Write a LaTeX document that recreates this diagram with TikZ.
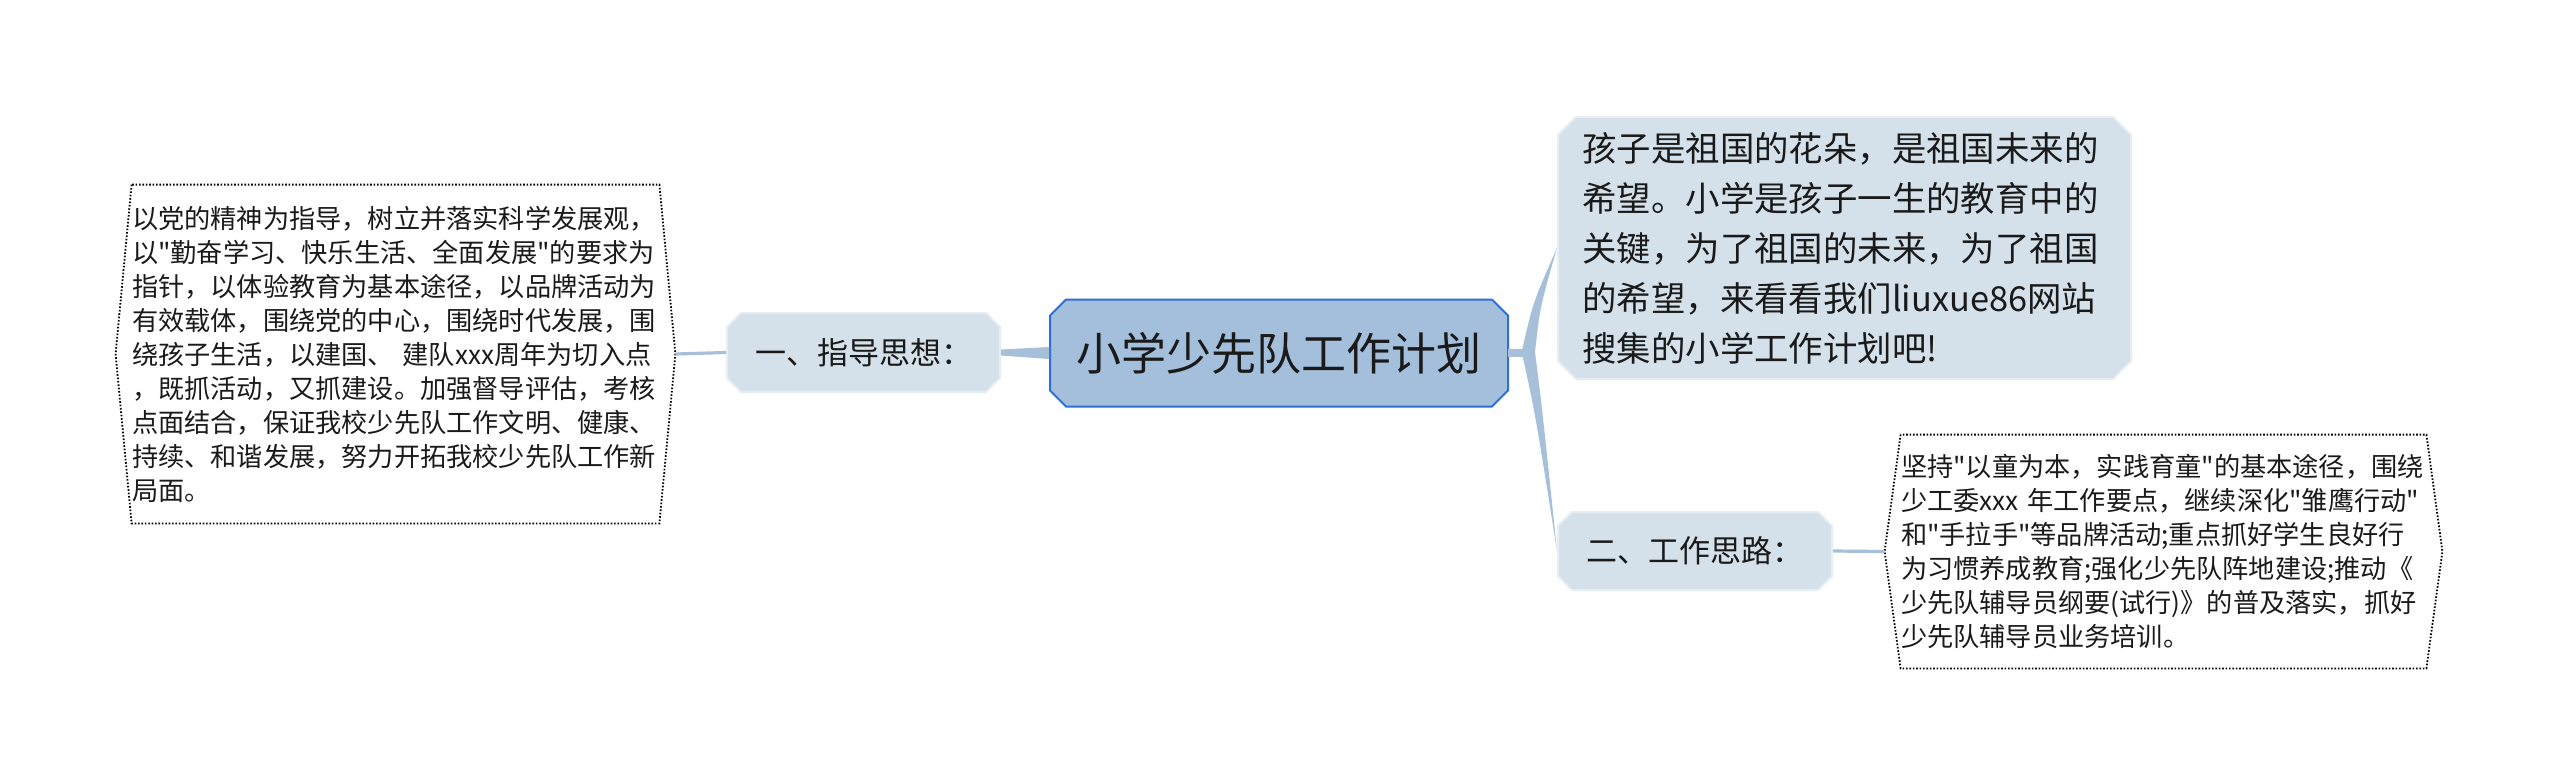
\documentclass[tikz,border=0pt]{standalone}
\usepackage{fontspec}
\setmainfont{Noto Sans CJK SC}[Ligatures=TeXOff]
\usetikzlibrary{shapes.misc,calc}
\definecolor{branch}{HTML}{A7C0DA}
\definecolor{topicfill}{HTML}{A3BFDC}
\definecolor{topicline}{HTML}{2F6FD5}
\definecolor{subfill}{HTML}{D4E0EA}
\definecolor{subline}{HTML}{E6EDF3}
\definecolor{ink}{HTML}{1A1A1A}

\begin{document}
\begin{tikzpicture}[x=0.5pt,y=-0.5pt,
  topic/.style={chamfered rectangle,chamfered rectangle xsep=4pt,chamfered rectangle ysep=4pt,
    fill=topicfill,draw=topicline,line width=1pt,inner sep=0pt,text=ink},
  sub/.style={chamfered rectangle,chamfered rectangle xsep=3.5pt,chamfered rectangle ysep=3.5pt,
    fill=subfill,draw=subline,line width=1pt,inner sep=0pt,text=ink},
  note/.style={inner sep=0pt,align=left,text=ink,font=\fontsize{13.1pt}{17pt}\selectfont},
  memo/.style={line width=0.9pt,dash pattern=on 0.8pt off 0.9pt},
  twig/.style={draw=branch,line width=1.6pt}]
% Page outline
  \fill[white] (0,0) rectangle (2560,783);
  \useasboundingbox (0,0) rectangle (2560,783);
% Central topic
  \node[topic,minimum width=229pt,minimum height=53.5pt,
    font=\fontsize{22.5pt}{27pt}\selectfont] (title) at (1279,353) {小学少先队工作计划};
% Left branch label
  \node[sub,minimum width=136.5pt,minimum height=39.5pt,
    font=\fontsize{15.5pt}{19pt}\selectfont] (guide) at (863.5,352.5) {一、指导思想：};
% Right branch label
  \node[sub,minimum width=137pt,minimum height=39pt,
    font=\fontsize{15.5pt}{19pt}\selectfont] (idea) at (1695,551) {二、工作思路：};
% Right intro card
  \node[sub,minimum width=286.5pt,minimum height=131pt,chamfered rectangle xsep=4.5pt,
    chamfered rectangle ysep=4.5pt,align=left,text width=262pt,
    font=\fontsize{17.2pt}{25pt}\selectfont] (intro) at (1844.5,248) {孩子是祖国的花朵，是祖国未来的\\
希望。小学是孩子一生的教育中的\\
关键，为了祖国的未来，为了祖国\\
的希望，来看看我们liuxue86网站\\
搜集的小学工作计划吧!};
% Left note
  \node[note,text width=263.5pt,minimum height=169pt] (guidetext) at (395.5,354) {以党的精神为指导，树立并落实科学发展观，\\
以"勤奋学习、快乐生活、全面发展"的要求为\\
指针，以体验教育为基本途径，以品牌活动为\\
有效载体，围绕党的中心，围绕时代发展，围\\
绕孩子生活，以建国、~建队xxx周年为切入点\\
，既抓活动，又抓建设。加强督导评估，考核\\
点面结合，保证我校少先队工作文明、健康、\\
持续、和谐发展，努力开拓我校少先队工作新\\
局面。};
  \draw[memo] (guidetext.north west) -- ($(guidetext.west)+(-16,0)$) -- (guidetext.south west)
    -- (guidetext.south east) -- ($(guidetext.east)+(16,0)$) -- (guidetext.north east) -- cycle;
  \coordinate (guidetip) at ($(guidetext.east)+(16,0)$);
% Right note
  \node[note,text width=262.5pt,minimum height=116.5pt] (ideatext) at (2163.5,551.5) {坚持"以童为本，实践育童"的基本途径，围绕\\
少工委xxx~年工作要点，继续深化"雏鹰行动"\\
和"手拉手"等品牌活动;重点抓好学生良好行\\
为习惯养成教育;强化少先队阵地建设;推动《\\
少先队辅导员纲要(试行)》的普及落实，抓好\\
少先队辅导员业务培训。};
  \draw[memo] (ideatext.north west) -- ($(ideatext.west)+(-16,0)$) -- (ideatext.south west)
    -- (ideatext.south east) -- ($(ideatext.east)+(16,0)$) -- (ideatext.north east) -- cycle;
  \coordinate (ideatip) at ($(ideatext.west)+(-16,0)$);
% Tapered link to the left label
  \fill[branch] ($(title.west)+(0,-6)$) -- ($(guide.east)+(0,-3)$)
    -- ($(guide.east)+(0,3)$) -- ($(title.west)+(0,6)$) -- cycle;
% Thin links to the notes
  \draw[twig] (guide.west) -- (guidetip);
  \draw[twig] (idea.east) -- (ideatip);
% Right fork
  \coordinate (fork) at (1523,352);
  \fill[branch] ($(title.east)+(-1,-4.5)$) rectangle ($(fork)+(3,4.5)$);
  \fill[branch] ($(fork)+(-2,3)$) .. controls ($(fork)+(10,-50)$) .. (intro.west)
    .. controls ($(fork)+(17,-45)$) .. ($(fork)+(12,0)$) -- cycle;
  \fill[branch] ($(fork)+(-2,-3)$) .. controls ($(fork)+(12,60)$) .. (idea.west)
    .. controls ($(fork)+(19,55)$) .. ($(fork)+(12,0)$) -- cycle;
\end{tikzpicture}
\end{document}
